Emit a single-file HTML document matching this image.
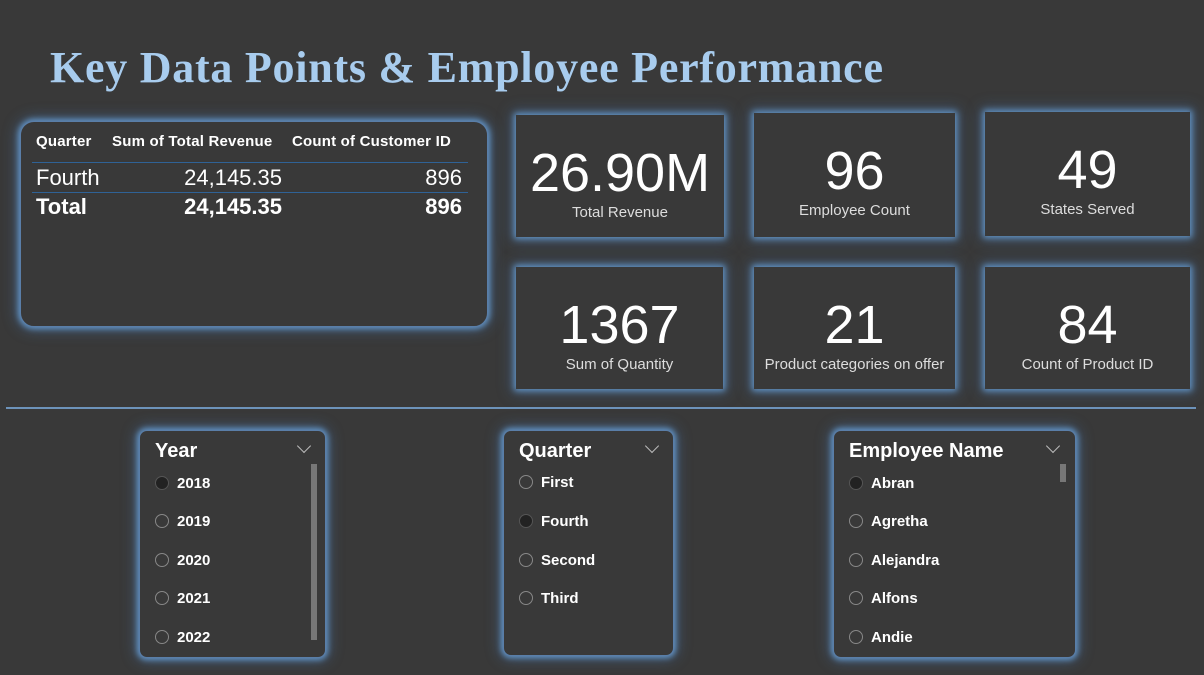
<!DOCTYPE html>
<html><head><meta charset="utf-8"><style>
*{box-sizing:border-box;margin:0;padding:0}
body{width:1204px;height:675px;background:#393939;position:relative;overflow:hidden;font-family:"Liberation Sans",Arial,sans-serif;color:#fff}
.title{position:absolute;left:50px;top:42px;font-family:"Liberation Serif",serif;font-weight:bold;font-size:44px;color:#a8ccee;letter-spacing:0.75px}
.glow{position:absolute;background:#393939;box-shadow:0 0 6px 2px rgba(110,170,230,0.75),0 0 14px 4px rgba(80,140,210,0.35)}
.card{text-align:center}
.card .v{position:absolute;left:0;right:0;top:28px;font-size:54px;line-height:60px}
.card .l{position:absolute;left:0;right:0;top:89px;font-size:15px;color:#ddd}
.tbl{left:20px;top:121px;width:468px;height:206px;border-radius:14px;border:1px solid #5a7ea8}
.tbl .h{position:absolute;top:11px;font-size:15px;font-weight:bold;letter-spacing:0.2px}
.tbl .r{position:absolute;font-size:22px}
.line{position:absolute;left:11px;width:436px;height:1px;background:#2f6296}
.divider{position:absolute;left:6px;top:407px;width:1190px;height:2px;background:#6d93ba}
.sl{border-radius:8px;border:1px solid #5a7ea8}
.sl .t{position:absolute;left:15px;top:9px;font-size:20px;font-weight:bold}
.sl .chev{position:absolute;top:10px;width:10px;height:10px;border-right:1.5px solid #bbb;border-bottom:1.5px solid #bbb;transform:rotate(45deg)}
.it{position:absolute;left:15px;font-size:15px;font-weight:bold;height:20px;line-height:20px}
.it .rd{display:inline-block;width:14px;height:14px;border:1px solid #888;border-radius:50%;vertical-align:-2px;margin-right:8px}
.it .rd.on{background:#222;border-color:#555}
.sb{position:absolute;background:#777}
</style></head><body>
<div class="title">Key Data Points &amp; Employee Performance</div>

<div class="glow tbl">
 <div class="h" style="left:15px">Quarter</div>
 <div class="h" style="left:91px">Sum of Total Revenue</div>
 <div class="h" style="left:271px">Count of Customer ID</div>
 <div class="line" style="top:40px"></div>
 <div class="r" style="left:15px;top:43px">Fourth</div>
 <div class="r" style="right:205px;top:43px">24,145.35</div>
 <div class="r" style="right:25px;top:43px">896</div>
 <div class="line" style="top:70px"></div>
 <div class="r" style="left:15px;top:72px;font-weight:bold">Total</div>
 <div class="r" style="right:205px;top:72px;font-weight:bold">24,145.35</div>
 <div class="r" style="right:25px;top:72px;font-weight:bold">896</div>
</div>

<div class="glow card" style="left:516px;top:115px;width:208px;height:122px"><div class="v">26.90M</div><div class="l" style="top:89px">Total Revenue</div></div>
<div class="glow card" style="left:754px;top:113px;width:201px;height:124px"><div class="v">96</div><div class="l">Employee Count</div></div>
<div class="glow card" style="left:985px;top:112px;width:205px;height:124px"><div class="v">49</div><div class="l">States Served</div></div>
<div class="glow card" style="left:516px;top:267px;width:207px;height:122px"><div class="v">1367</div><div class="l">Sum of Quantity</div></div>
<div class="glow card" style="left:754px;top:267px;width:201px;height:122px"><div class="v">21</div><div class="l">Product categories on offer</div></div>
<div class="glow card" style="left:985px;top:267px;width:205px;height:122px"><div class="v">84</div><div class="l">Count of Product ID</div></div>

<div class="divider"></div>

<div class="glow sl" style="left:139px;top:430px;width:187px;height:228px">
 <div class="t">Year</div><div class="chev" style="left:159px"></div>
 <div class="sb" style="left:171px;top:33px;width:6px;height:176px"></div>
 <div class="it" style="top:43px"><span class="rd on"></span>2018</div>
 <div class="it" style="top:81px"><span class="rd"></span>2019</div>
 <div class="it" style="top:120px"><span class="rd"></span>2020</div>
 <div class="it" style="top:158px"><span class="rd"></span>2021</div>
 <div class="it" style="top:197px"><span class="rd"></span>2022</div>
</div>

<div class="glow sl" style="left:503px;top:430px;width:171px;height:226px">
 <div class="t">Quarter</div><div class="chev" style="left:143px"></div>
 <div class="it" style="top:42px"><span class="rd"></span>First</div>
 <div class="it" style="top:81px"><span class="rd on"></span>Fourth</div>
 <div class="it" style="top:120px"><span class="rd"></span>Second</div>
 <div class="it" style="top:158px"><span class="rd"></span>Third</div>
</div>

<div class="glow sl" style="left:833px;top:430px;width:243px;height:228px">
 <div class="t">Employee Name</div><div class="chev" style="left:214px"></div>
 <div class="sb" style="left:226px;top:33px;width:6px;height:18px"></div>
 <div class="it" style="top:43px"><span class="rd on"></span>Abran</div>
 <div class="it" style="top:81px"><span class="rd"></span>Agretha</div>
 <div class="it" style="top:120px"><span class="rd"></span>Alejandra</div>
 <div class="it" style="top:158px"><span class="rd"></span>Alfons</div>
 <div class="it" style="top:197px"><span class="rd"></span>Andie</div>
</div>
</body></html>
